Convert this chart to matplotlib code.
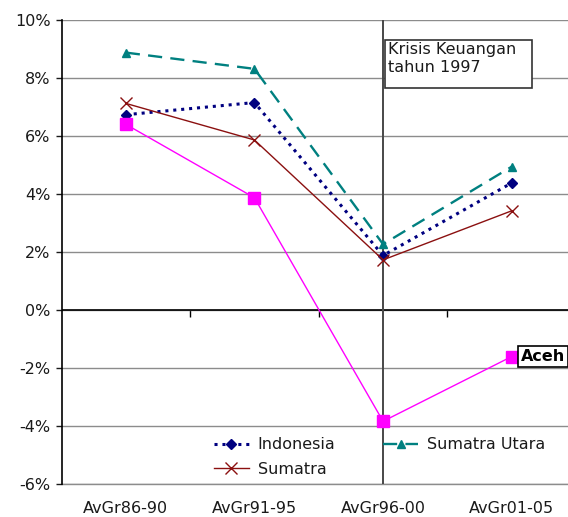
import matplotlib
matplotlib.use("Agg")
import matplotlib.pyplot as plt
from matplotlib.ticker import FuncFormatter
from matplotlib.patches import Rectangle

categories = ["AvGr86-90", "AvGr91-95", "AvGr96-00", "AvGr01-05"]
indonesia = [6.72, 7.14, 1.87, 4.37]
sumatra_utara = [8.86, 8.30, 2.26, 4.93]
sumatra = [7.11, 5.85, 1.72, 3.41]
aceh = [6.39, 3.86, -3.84, -1.61]
y_ticks = [-6, -4, -2, 0, 2, 4, 6, 8, 10]
crisis_label = "Krisis Keuangan\ntahun 1997"
crisis_index = 2

plt.rcParams['font.family'] = ['DejaVu Sans']
FS = 11.5

fig = plt.figure(figsize=(5.68, 5.17), dpi=100)
ax = fig.add_axes([61.5/568, 1-484/517, 514.5/568, 464.5/517])
x = list(range(len(categories)))

ax.set_xlim(-0.5, len(categories) - 0.5)
ax.set_ylim(y_ticks[0], y_ticks[-1])
ax.set_yticks(y_ticks)
ax.yaxis.set_major_formatter(FuncFormatter(lambda v, p: f"{int(v)}%"))
ax.grid(axis='y', color='#8c8c8c', lw=1)
ax.axhline(y_ticks[0], color='#8c8c8c', lw=1, clip_on=False, zorder=0.5)
ax.set_axisbelow(True)
for s in ['top', 'right', 'bottom']:
    ax.spines[s].set_visible(False)
ax.spines['left'].set_color('black')
ax.spines['left'].set_linewidth(1.2)
ax.set_xticks(x)
ax.set_xticklabels(categories)
ax.tick_params(axis='x', length=0, pad=12, labelsize=FS, colors='#1a1a1a')
ax.tick_params(axis='y', length=4.5, width=1, labelsize=FS, colors='#1a1a1a', direction='out')

ax.axhline(0, color='black', lw=1.2, zorder=2)
sec = ax.secondary_xaxis((0 - y_ticks[0]) / (y_ticks[-1] - y_ticks[0]))
sec.set_xticks([i + 0.5 for i in x[:-1]])
sec.set_xticklabels([])
sec.tick_params(axis='x', length=5, width=1, direction='out', color='black')
sec.spines['bottom'].set_visible(False)

ax.axvline(crisis_index, color='#484848', lw=1.4, zorder=2)

l1, = ax.plot(x, indonesia, color='#000080', ls=(0, (1.0, 1.6)), lw=2.2, marker='D', ms=5.5,
              label='Indonesia', zorder=4)
l3, = ax.plot(x, sumatra_utara, color='#008080', ls=(0, (6, 3.5)), lw=1.7, marker='^', ms=5.5,
              label='Sumatra Utara', zorder=4)
l2, = ax.plot(x, sumatra, color='#8b1010', ls='-', lw=1, marker='x', ms=9, mew=1,
              label='Sumatra', zorder=4)
ax.plot(x, aceh, color='#ff00ff', ls='-', lw=1, marker='s', ms=8, zorder=4)

ax.add_patch(Rectangle((0.6288, 0.8525), 0.2857, 0.1034, transform=ax.transAxes,
                       fc='white', ec='#333333', lw=1.2, zorder=5))
ax.text(0.6346, 0.951, crisis_label, transform=ax.transAxes, ha='left', va='top',
        fontsize=FS, color='#1a1a1a', linespacing=1.2, zorder=6)

ax.annotate('Aceh', xy=(x[-1], aceh[-1]), xytext=(6.5, 0), textcoords='offset points',
            ha='left', va='center', fontsize=FS, fontweight='bold', color='black',
            bbox=dict(boxstyle='square,pad=0.2', fc='white', ec='black', lw=1.2),
            annotation_clip=False, zorder=5)

leg = ax.legend(handles=[l1, l2, l3], ncol=2, loc='lower left', bbox_to_anchor=(0.268, -0.016),
                frameon=False, fontsize=FS, handlelength=2.2, columnspacing=3.0,
                handletextpad=0.55, labelspacing=0.6)
for t in leg.get_texts():
    t.set_color('#1a1a1a')

fig.savefig('out.png', dpi=100)
